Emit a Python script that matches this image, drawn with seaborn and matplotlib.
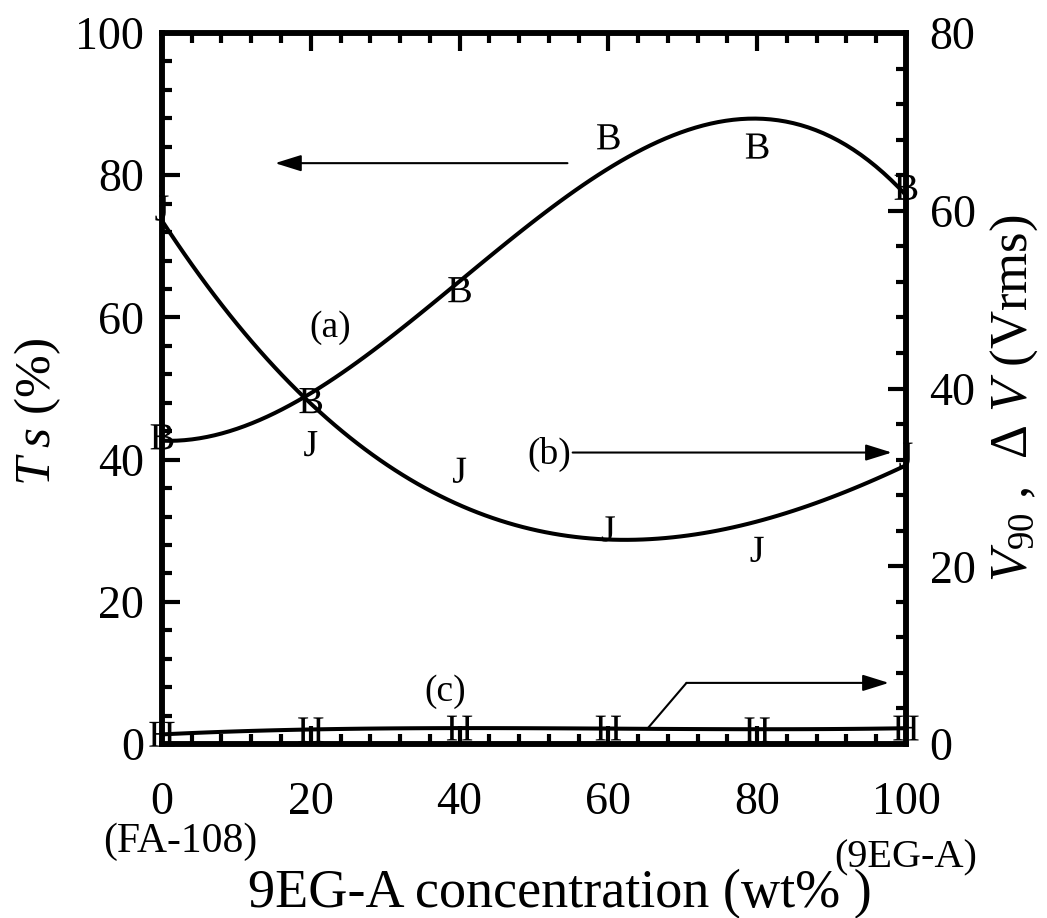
import numpy as np
import pandas as pd
import matplotlib
matplotlib.use("Agg")
import matplotlib.pyplot as plt
import seaborn as sns
from matplotlib.ticker import MultipleLocator

# ---- data ----
conc = [0, 20, 40, 60, 80, 100]                 # 9EG-A concentration (wt%)
ts_a = [43.2, 48.3, 63.9, 85.4, 84.1, 78.3]     # (a) Ts (%), left axis
v90_b = [60.3, 33.8, 30.8, 24.2, 21.9, 32.5]    # (b) V90 (Vrms), right axis
dv_c = [1.1, 1.6, 1.8, 1.8, 1.6, 1.8]           # (c) dV (Vrms), right axis
x_ticks = [0, 20, 40, 60, 80, 100]
left_ticks = [0, 20, 40, 60, 80, 100]
right_ticks = [0, 20, 40, 60, 80]

sns.set_theme(style="ticks", rc={
    "axes.edgecolor": "black", "xtick.color": "black", "ytick.color": "black",
    "text.color": "black", "axes.labelcolor": "black"})
plt.rcParams['font.family'] = ['Liberation Serif', 'DejaVu Serif']
plt.rcParams['mathtext.fontset'] = 'custom'
plt.rcParams['mathtext.rm'] = 'Liberation Serif'
plt.rcParams['mathtext.it'] = 'Liberation Serif:italic'
plt.rcParams['mathtext.bf'] = 'Liberation Serif:bold'

fig = plt.figure(figsize=(10.47, 9.18), dpi=100)
ax = fig.add_axes([0.1547, 0.1895, 0.7106, 0.7745])
ax2 = ax.twinx()

line_kw = dict(lw=2.9, clip_on=False, solid_capstyle='butt')
sc_kw = dict(color='black', linewidth=0, edgecolor='none', clip_on=False, zorder=5, legend=False)

# (a) Ts on left axis
sns.regplot(x=conc, y=ts_a, order=3, ci=None, scatter=False, ax=ax,
            color='black', line_kws=line_kw)
sns.scatterplot(x=conc, y=ts_a, marker=r'$\mathrm{B}$', s=330, ax=ax, **sc_kw)

# (b) V90 and (c) dV on right axis
sns.regplot(x=conc, y=v90_b, order=3, ci=None, scatter=False, ax=ax2,
            color='black', line_kws=line_kw)
sns.scatterplot(x=conc, y=v90_b, marker=r'$\mathrm{J}$', s=330, ax=ax2, **sc_kw)
sns.regplot(x=conc, y=dv_c, order=3, ci=None, scatter=False, ax=ax2,
            color='black', line_kws=line_kw)
sns.scatterplot(x=conc, y=dv_c, marker=r'$\mathrm{H}$', s=330, ax=ax2, **sc_kw)

ax.set_xlim(0, 100)
ax.set_ylim(0, 100)
ax2.set_ylim(0, 80)
ax.set_xticks(x_ticks)
ax.set_yticks(left_ticks)
ax2.set_yticks(right_ticks)
ax.xaxis.set_minor_locator(MultipleLocator(4))
ax.yaxis.set_minor_locator(MultipleLocator(4))
ax2.yaxis.set_minor_locator(MultipleLocator(4))
ax.set_xlabel('')
ax.set_ylabel('')
ax2.set_ylabel('')

for a in (ax, ax2):
    a.tick_params(which='both', direction='in', width=3, labelsize=33)
    a.tick_params(which='major', length=13)
    a.tick_params(which='minor', length=7)
    for s in a.spines.values():
        s.set_linewidth(4)
        s.set_color('black')
ax.tick_params(axis='x', which='both', top=True, bottom=True, pad=27)
ax.tick_params(axis='y', which='both', left=True, right=False, pad=13)
ax2.tick_params(axis='y', which='both', right=True, left=False, pad=17)

# axis titles
ax.text(0.535, -0.229, '9EG-A concentration (wt% )', transform=ax.transAxes,
        ha='center', va='baseline', fontsize=39)
ax.text(-0.1505, 0.467, r'$T\;s$ (%)', transform=ax.transAxes, rotation=90,
        rotation_mode='anchor', ha='center', va='baseline', fontsize=37)
ax.text(1.1626, 0.486, r'$V_{90}$ ,  Δ $V$ (Vrms)', transform=ax.transAxes,
        rotation=90, rotation_mode='anchor', ha='center', va='baseline', fontsize=38)
ax.text(0.024, -0.138, '(FA-108)', transform=ax.transAxes, ha='center',
        va='center', fontsize=30)
ax.text(1.0, -0.160, '(9EG-A)', transform=ax.transAxes, ha='center',
        va='center', fontsize=29)

# curve labels and arrows
ax.text(22.6, 58.5, '(a)', ha='center', va='center', fontsize=27)
ax.text(52.1, 40.8, '(b)', ha='center', va='center', fontsize=27)
ax.text(38.1, 7.3, '(c)', ha='center', va='center', fontsize=27)

arrow_kw = dict(arrowstyle='-|>,head_length=0.8,head_width=0.25', color='black',
                lw=1.5, mutation_scale=20, shrinkA=0, shrinkB=0)
ax.annotate('', xy=(15.2, 81.7), xytext=(54.5, 81.7), arrowprops=arrow_kw)
ax.annotate('', xy=(98.1, 41.0), xytext=(55.2, 41.0), arrowprops=arrow_kw)
ax.plot([65.2, 70.5], [2.1, 8.6], color='black', lw=1.5)
ax.annotate('', xy=(97.7, 8.6), xytext=(70.5, 8.6), arrowprops=arrow_kw)

fig.savefig('out.png', dpi=100)
